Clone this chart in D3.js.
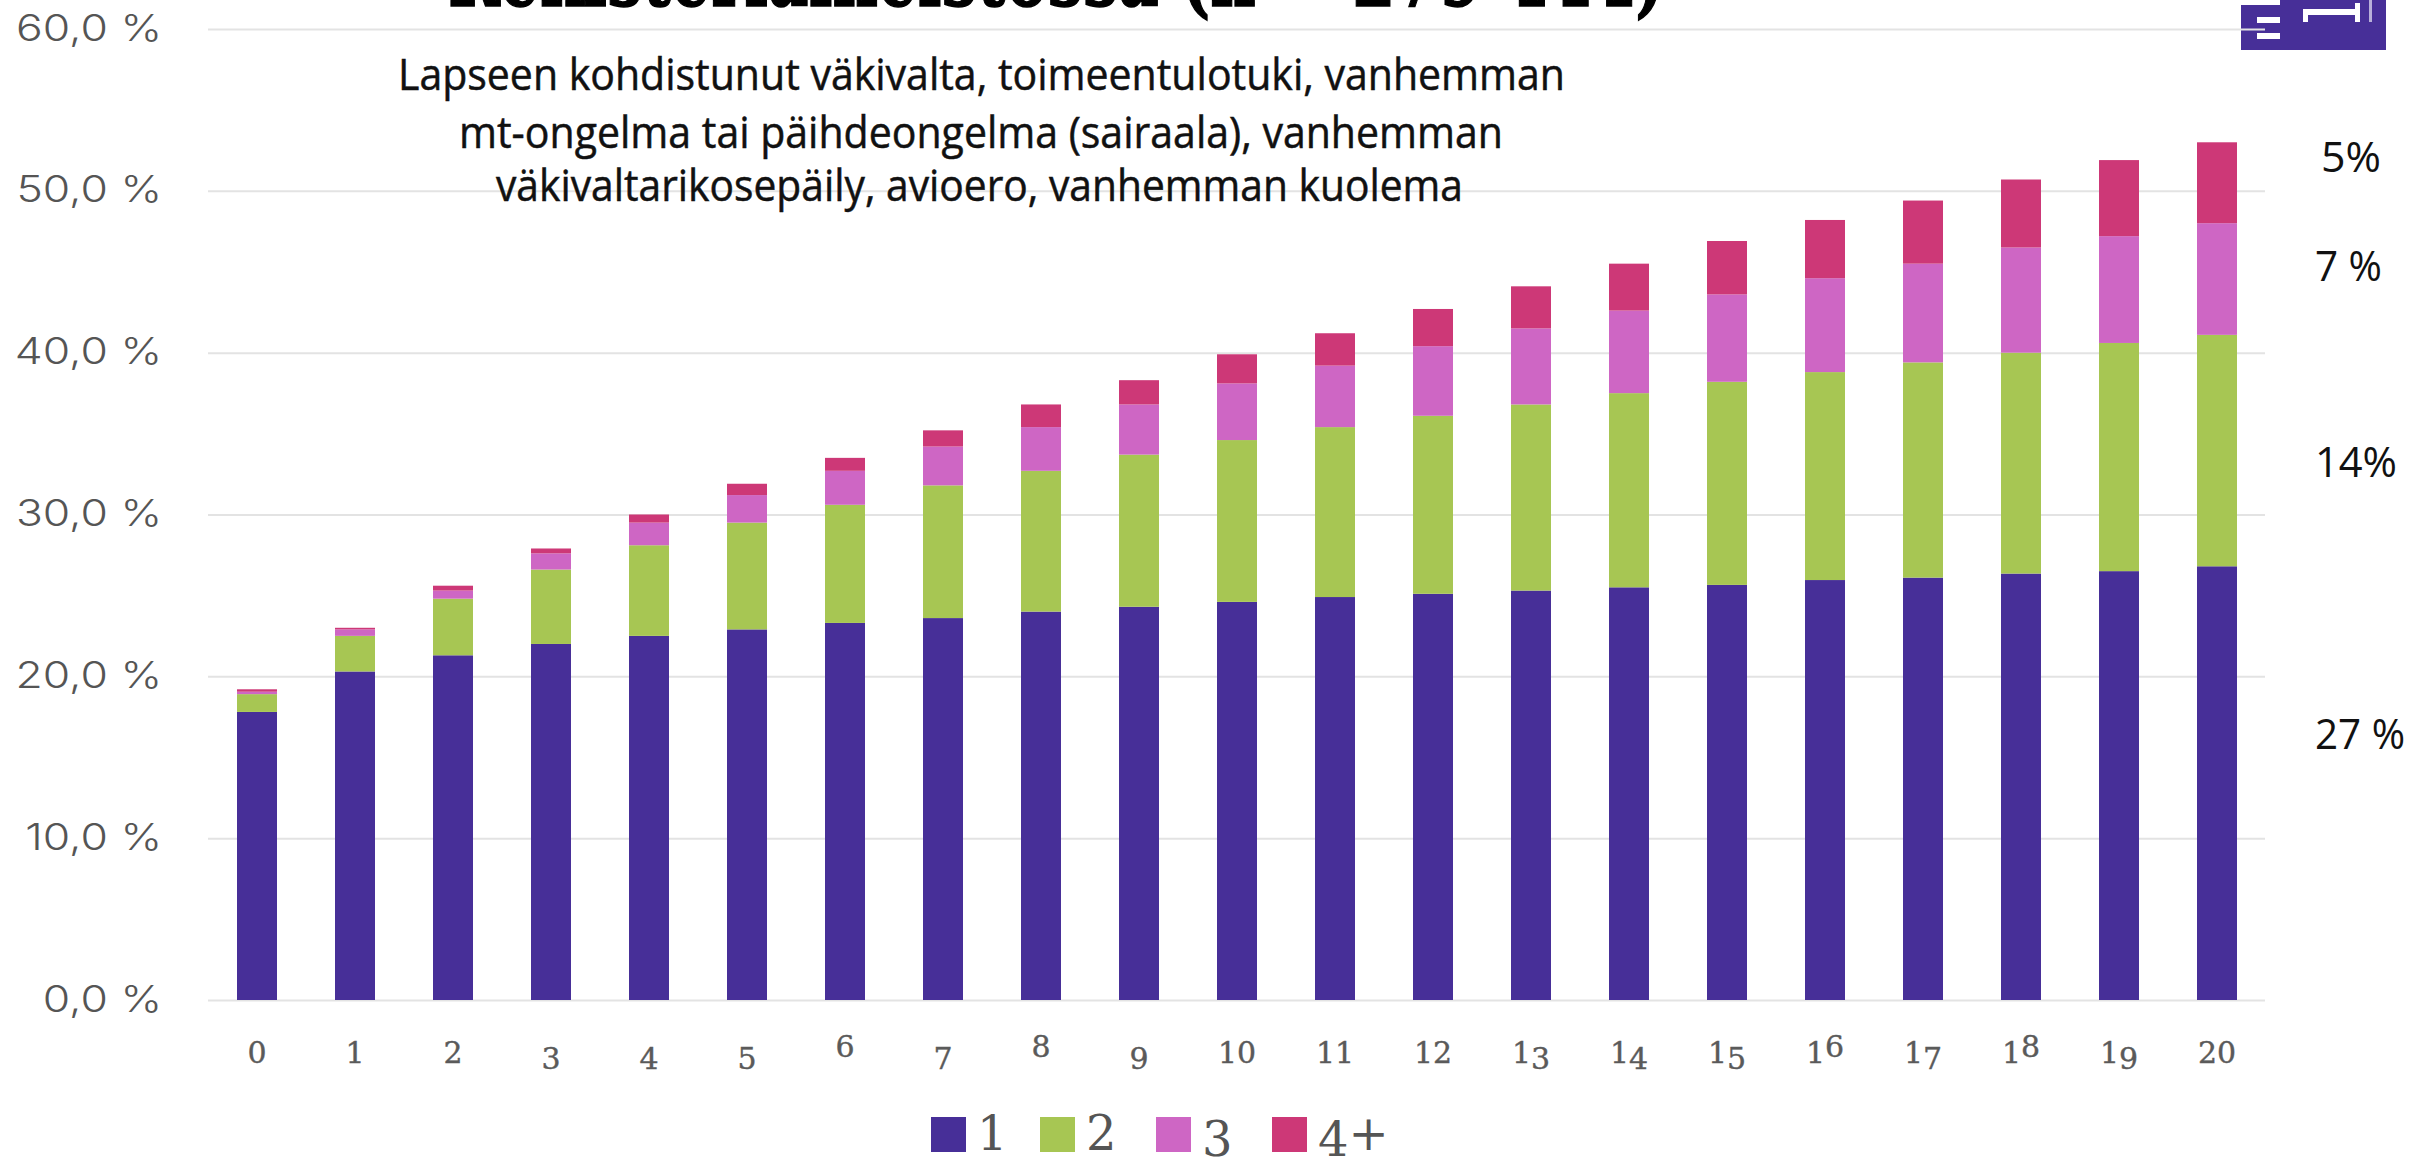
<!doctype html>
<html lang="fi">
<head>
<meta charset="utf-8">
<title>Rekisteriaineistossa</title>
<script src="https://d3js.org/d3.v7.min.js"></script>
<style>
  html, body { margin: 0; background: #fff; }
  svg { display: block; }
  .grid line { stroke: #e3e3e3; stroke-width: 2px; }
  .grid path { display: none; }
  .ylab { font-family: Inter, sans-serif; font-size: 37px; font-weight: 300; fill: #555; }
  .xlab { font-family: "DejaVu Serif", serif; font-size: 30px; fill: #5a5a5a; stroke: #5a5a5a; stroke-width: 0.4px; }
  .leg { font-family: "DejaVu Serif", serif; font-size: 48px; fill: #555; }
  .sub { font-family: "Open Sans", sans-serif; font-size: 44px; fill: #111; stroke: #111; stroke-width: 0.5px; }
  .side { font-family: "Open Sans", sans-serif; font-size: 42px; fill: #111; }
  .title { font-family: "DejaVu Serif", serif; font-weight: bold; font-size: 92px; fill: #000; stroke: #000; stroke-width: 1.5px; }
</style>
</head>
<body>
<svg id="chart" width="2430" height="1161"></svg>
<script>
  // % of the cohort per number of adversities
  const ages = d3.range(0, 21).map(String);
  const one = [17.8, 20.3, 21.3, 22.0, 22.5, 22.9, 23.3, 23.6, 24.0, 24.3, 24.6, 24.9, 25.1, 25.3, 25.5, 25.65, 25.95, 26.1, 26.35, 26.5, 26.8];
  const two = [1.1, 2.2, 3.5, 4.6, 5.6, 6.6, 7.3, 8.2, 8.7, 9.4, 10.0, 10.5, 11.0, 11.5, 12.0, 12.55, 12.85, 13.3, 13.65, 14.1, 14.3];
  const three = [0.15, 0.4, 0.5, 1.0, 1.4, 1.7, 2.1, 2.4, 2.7, 3.1, 3.5, 3.8, 4.3, 4.7, 5.1, 5.4, 5.8, 6.1, 6.5, 6.6, 6.9];
  const fourPlus = [0.15, 0.1, 0.3, 0.3, 0.5, 0.7, 0.8, 1.0, 1.4, 1.5, 1.8, 2.0, 2.3, 2.6, 2.9, 3.3, 3.6, 3.9, 4.2, 4.7, 5.0];

  const seriesNames = ["1", "2", "3", "4+"];
  const seriesColors = ["#472f98", "#a7c653", "#ce66c4", "#cd3877"];
  const yTicks = [0, 10, 20, 30, 40, 50, 60];
  const sideLabels = ["5%", "7 %", "14%", "27 %"];
  const subtitle = [
    "Lapseen kohdistunut väkivalta, toimeentulotuki, vanhemman",
    "mt-ongelma tai päihdeongelma (sairaala), vanhemman",
    "väkivaltarikosepäily, avioero, vanhemman kuolema"
  ];

  const rows = ages.map((a, i) => ({age: a, "1": one[i], "2": two[i], "3": three[i], "4+": fourPlus[i]}));
  const stacked = d3.stack().keys(seriesNames)(rows);

  const svg = d3.select("#chart");
  const x = d3.scaleBand().domain(ages).range([208, 2266]).paddingInner(0.592).paddingOuter(0.296);
  const y = d3.scaleLinear().domain([0, 60]).range([1000, 29]);
  const color = d3.scaleOrdinal().domain(seriesNames).range(seriesColors);

  // old style figures: some digits sit above or below the line
  const digitShift = {"3": 0.2, "4": 0.2, "5": 0.2, "7": 0.2, "9": 0.2, "6": -0.2, "8": -0.2};
  function oldStyle(sel, size) {
    sel.each(function() {
      const t = d3.select(this), chars = t.text().split("");
      t.text(null);
      let prev = 0;
      chars.forEach(c => {
        const s = (digitShift[c] || 0) * size;
        t.append("tspan").attr("dy", s - prev).text(c);
        prev = s;
      });
    });
  }

  // logo, partly cut by the top edge
  const logo = svg.append("g");
  logo.append("rect").attr("x", 2241).attr("y", 0).attr("width", 145).attr("height", 50).attr("fill", "#472f98");
  [[2235, 0, 45, 5], [2257, 17, 23, 6], [2257, 33, 23, 6], [2303, 9, 57, 6], [2303, 9, 5, 13], [2355, 3, 5, 19]].forEach(r => {
    logo.append("rect").attr("x", r[0]).attr("y", r[1]).attr("width", r[2]).attr("height", r[3]).attr("fill", "#fff");
  });
  logo.append("rect").attr("x", 2369).attr("y", 0).attr("width", 3).attr("height", 22).attr("fill", "#b9b0da");

  // gridlines and y labels
  const yAxis = svg.append("g").attr("class", "grid").attr("transform", "translate(208,0)")
    .call(d3.axisLeft(y).tickValues(yTicks).tickSize(-2057).tickPadding(48)
      .tickFormat(d => d3.format(".1f")(d).replace(".", ",") + " %"));
  yAxis.selectAll("text").attr("class", "ylab").attr("dy", "0.3em").attr("x", -46)
    .attr("lengthAdjust", "spacingAndGlyphs")
    .attr("textLength", function() { return this.getComputedTextLength() * 1.2; });

  // bars
  svg.append("g").selectAll("g").data(stacked).join("g")
    .attr("fill", d => color(d.key))
    .selectAll("rect").data(d => d).join("rect")
    .attr("x", d => x(d.data.age))
    .attr("y", d => y(d[1]))
    .attr("width", x.bandwidth())
    .attr("height", d => y(d[0]) - y(d[1]));

  // x labels
  const xAxis = svg.append("g").attr("transform", "translate(0,1000)")
    .call(d3.axisBottom(x).tickSize(0));
  xAxis.select(".domain").remove();
  xAxis.selectAll("text").attr("class", "xlab").attr("y", 63).attr("dy", 0).call(oldStyle, 30);

  // title, cut by the top edge
  svg.append("text").attr("class", "title").attr("x", 448).attr("y", 6)
    .attr("textLength", 1217).attr("lengthAdjust", "spacingAndGlyphs")
    .text("Rekisteriaineistossa (n = 279 444)");

  const subY = [90, 148, 201], subX = [398, 459, 496], subW = [1167, 1044, 967];
  svg.append("g").selectAll("text").data(subtitle).join("text")
    .attr("class", "sub")
    .attr("x", (d, i) => subX[i]).attr("y", (d, i) => subY[i])
    .attr("textLength", (d, i) => subW[i]).attr("lengthAdjust", "spacingAndGlyphs")
    .text(d => d);

  // shares at age 20, beside the last bar
  const sideX = [2321, 2315, 2315, 2315], sideY = [172, 281, 477, 749], sideW = [60, 67, 82, 90];
  svg.append("g").selectAll("text").data(sideLabels).join("text")
    .attr("class", "side")
    .attr("x", (d, i) => sideX[i]).attr("y", (d, i) => sideY[i])
    .attr("textLength", (d, i) => sideW[i]).attr("lengthAdjust", "spacingAndGlyphs")
    .text(d => d);

  // legend
  const legX = [931, 1040, 1156, 1272];
  const leg = svg.append("g").selectAll("g").data(seriesNames).join("g")
    .attr("transform", (d, i) => "translate(" + legX[i] + ",1117)");
  leg.append("rect").attr("width", 35).attr("height", 35).attr("fill", d => color(d));
  leg.append("text").attr("class", "leg").attr("x", 46).attr("y", 33).text(d => d).call(oldStyle, 30);
</script>
</body>
</html>
